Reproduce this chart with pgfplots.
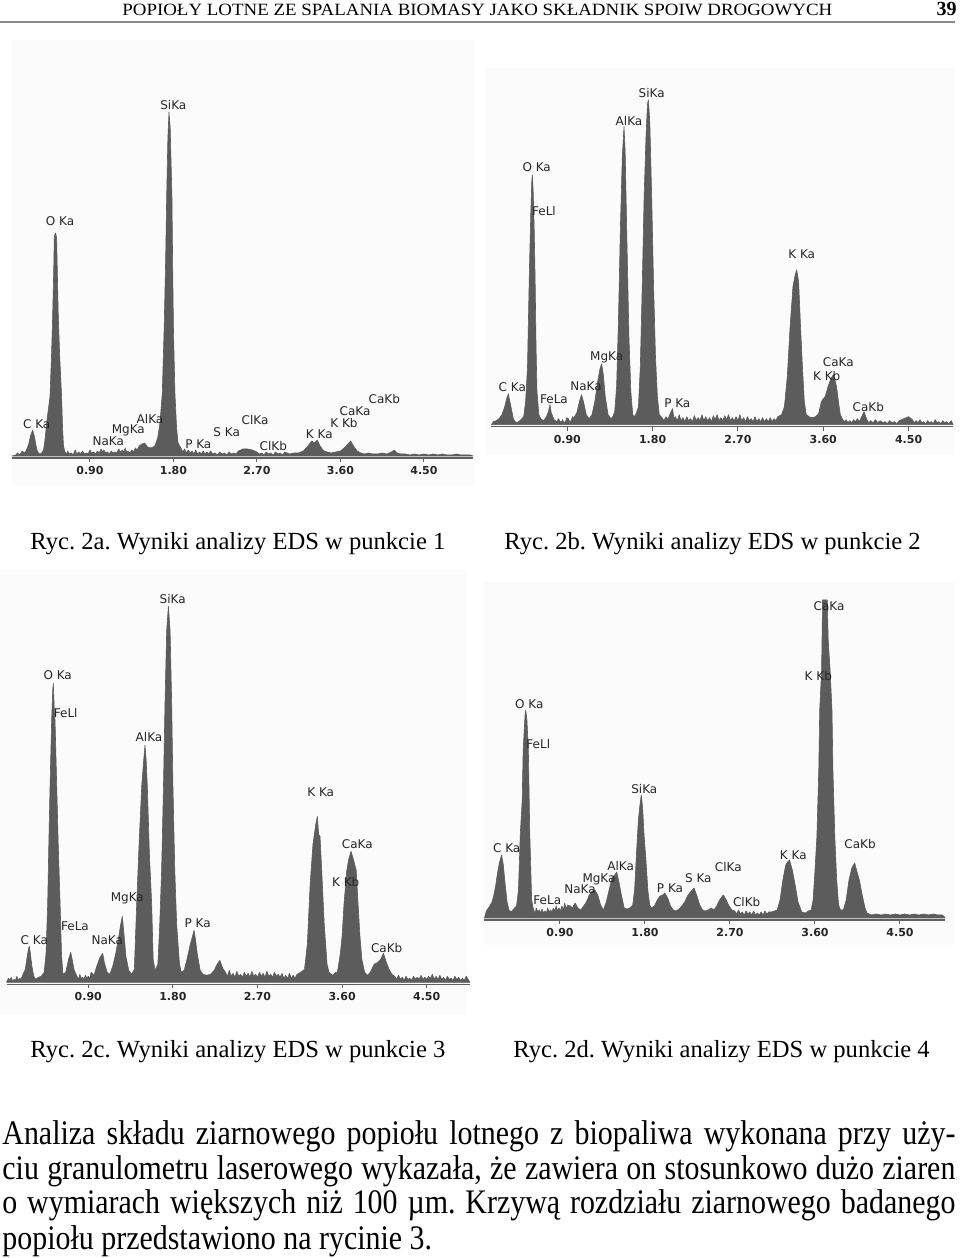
\documentclass[border=0pt]{standalone}
\usepackage{pgfplots}
\pgfplotsset{compat=1.18}
\usepackage{fontspec}
\setmainfont{Liberation Serif}
\newfontfamily\labfont{DejaVu Sans}
\newfontfamily\bodyfont{Liberation Serif}[FakeStretch=0.87]
\newfontfamily\headfont{Liberation Serif}
\definecolor{spec}{RGB}{92,92,92}
\definecolor{axgray}{RGB}{95,95,95}
\definecolor{bg}{RGB}{251,251,251}
\newcommand\lab[3]{\node[font=\labfont\fontsize{6}{6}\selectfont,inner sep=0pt,text=black!85] at ({#1*0.5pt},{(1258-#2)*0.5pt}) {#3};}
\newcommand\pxrect[4]{\fill[bg] ({#1*0.5pt},{(1258-#2)*0.5pt}) rectangle ({#3*0.5pt},{(1258-#4)*0.5pt});}
\pgfplotsset{
  eds/.style={scale only axis, anchor=south west, axis y line=none, axis x line*=bottom,
    ymin=0, ytick=\empty, enlargelimits=false,
    xtick={0.9,1.8,2.7,3.6,4.5}, xticklabels={0.90,1.80,2.70,3.60,4.50},
    xtick align=outside, major tick length=2pt,
    tick style={line width=0.5pt, draw=axgray},
    axis line style={line width=0.6pt, draw=axgray},
    xticklabel style={font=\labfont\bfseries\fontsize{5.5}{6}\selectfont, text=black!85, inner sep=1pt, yshift=-1pt},
    clip=false},
  sp/.style={fill=spec, draw=spec, line width=0.3pt, line join=round}
}
\frenchspacing
\begin{document}
\frenchspacing
\begin{tikzpicture}
\path[use as bounding box] (0,0) rectangle (480pt,629pt);
% panel backgrounds
\pxrect{12}{485}{475}{40}
\pxrect{485}{455}{955}{68}
\pxrect{0}{1015}{467}{570}
\pxrect{483}{945}{955}{582}
% header
\node[anchor=base west, inner sep=0] at (61pt,{(1258-16)*0.5pt}) {\resizebox{355pt}{5.7pt}{\headfont POPIOŁY LOTNE ZE SPALANIA BIOMASY JAKO SKŁADNIK SPOIW DROGOWYCH}};
\node[anchor=base east, inner sep=0] at (478.5pt,{(1258-16)*0.5pt}) {\fontsize{10}{10}\selectfont\bfseries 39};
\fill[black!45] (0pt,{(1258-23.5)*0.5pt}) rectangle (477.5pt,{(1258-21.5)*0.5pt});

% ---------------- panel a ----------------
\begin{axis}[eds, at={(6pt,400pt)}, xmin=0.06, xmax=5.03, ymax=360, width=230.56pt, height=180pt]
\addplot[sp] coordinates {(0.06,2) (0.10,3) (0.12,5) (0.14,3) (0.15,4) (0.17,7) (0.18,6) (0.20,5) (0.22,9) (0.24,14) (0.26,22) (0.282,28) (0.30,22) (0.32,12) (0.335,6) (0.36,4) (0.38,5) (0.40,8) (0.415,18) (0.44,40) (0.469,61) (0.485,100) (0.498,141) (0.51,190) (0.516,222) (0.53,225) (0.541,220) (0.55,180) (0.559,141) (0.575,100) (0.595,61) (0.605,30) (0.615,12) (0.63,6) (0.65,4) (0.66,7) (0.68,4) (0.70,5) (0.72,3) (0.74,8) (0.76,4) (0.78,6) (0.80,4) (0.82,7) (0.84,4) (0.86,5) (0.88,4) (0.90,8) (0.92,5) (0.94,6) (0.96,4) (0.98,7) (1.00,5) (1.02,9) (1.035,6) (1.05,8) (1.07,5) (1.09,6) (1.11,4) (1.13,7) (1.15,5) (1.17,6) (1.19,5) (1.21,9) (1.23,6) (1.25,8) (1.265,6) (1.28,10) (1.295,6) (1.31,7) (1.33,5) (1.35,8) (1.37,6) (1.39,10) (1.41,8) (1.43,12) (1.46,14) (1.49,15) (1.52,11) (1.56,10) (1.60,12) (1.63,20) (1.655,35) (1.68,65) (1.70,130) (1.716,198) (1.727,261) (1.74,320) (1.752,346) (1.765,330) (1.784,261) (1.791,198) (1.80,130) (1.816,65) (1.834,30) (1.85,15) (1.88,10) (1.90,6) (1.92,9) (1.94,5) (1.96,8) (1.98,5) (2.00,7) (2.02,4) (2.04,8) (2.06,4) (2.08,6) (2.10,4) (2.12,7) (2.14,4) (2.16,6) (2.18,4) (2.20,7) (2.225,4) (2.25,5) (2.275,3) (2.30,6) (2.325,4) (2.35,5) (2.375,3) (2.40,6) (2.425,4) (2.45,5) (2.475,4) (2.50,7) (2.55,9) (2.60,9) (2.65,8) (2.70,6) (2.725,4) (2.75,5) (2.775,3) (2.80,6) (2.825,4) (2.85,5) (2.875,3) (2.90,6) (2.925,4) (2.95,5) (2.975,3) (3.00,6) (3.05,4) (3.10,5) (3.15,5) (3.20,7) (3.25,12) (3.29,17) (3.32,15) (3.35,18) (3.38,12) (3.42,7) (3.46,6) (3.50,5) (3.55,6) (3.60,7) (3.64,10) (3.68,14) (3.71,17) (3.74,12) (3.78,7) (3.82,5) (3.86,4) (3.90,5) (3.95,4) (4.00,4) (4.05,5) (4.10,4) (4.15,6) (4.18,8) (4.21,5) (4.25,4) (4.30,4) (4.35,3) (4.40,4) (4.45,3) (4.50,4) (4.55,3) (4.60,4) (4.65,3) (4.70,4) (4.75,3) (4.80,3) (4.85,4) (4.90,3) (4.95,3) (5.00,3) (5.03,2)} -- cycle;
\end{axis}
\lab{173.3}{105}{SiKa}
\lab{60}{220.7}{O Ka}
\lab{36.7}{424}{C Ka}
\lab{150}{419}{AlKa}
\lab{128.3}{430.7}{MgKa}
\lab{108.3}{441.7}{NaKa}
\lab{198.3}{444}{P Ka}
\lab{226.7}{431.7}{S Ka}
\lab{255}{420}{ClKa}
\lab{273.3}{446}{ClKb}
\lab{319.3}{434}{K Ka}
\lab{344}{422.7}{K Kb}
\lab{355}{411}{CaKa}
\lab{384.3}{399.3}{CaKb}

% ---------------- panel b ----------------
\begin{axis}[eds, at={(245.74pt,415.65pt)}, xmin=0.10, xmax=4.97, ymax=360, width=230.84pt, height=180pt]
\addplot[sp] coordinates {(0.10,2) (0.12,5) (0.15,6) (0.18,8) (0.21,12) (0.24,20) (0.26,28) (0.278,33) (0.29,27) (0.31,18) (0.33,8) (0.35,5) (0.37,4) (0.40,6) (0.42,8) (0.44,10) (0.46,25) (0.48,60) (0.50,157) (0.515,215) (0.525,245) (0.531,252) (0.54,235) (0.55,200) (0.56,150) (0.57,80) (0.58,35) (0.60,12) (0.62,8) (0.65,6) (0.68,10) (0.70,15) (0.717,22) (0.73,14) (0.76,7) (0.79,5) (0.805,8) (0.82,6) (0.835,4) (0.85,7) (0.865,4) (0.88,5) (0.895,9) (0.91,8) (0.925,5) (0.94,6) (0.955,10) (0.97,9) (1.00,14) (1.03,26) (1.05,32) (1.07,25) (1.10,12) (1.13,8) (1.16,12) (1.19,25) (1.22,45) (1.245,58) (1.262,63) (1.28,52) (1.30,30) (1.33,12) (1.36,8) (1.38,10) (1.40,15) (1.42,40) (1.44,110) (1.46,200) (1.48,270) (1.498,300) (1.51,275) (1.53,180) (1.55,90) (1.57,35) (1.59,12) (1.61,10) (1.63,14) (1.65,20) (1.67,60) (1.69,140) (1.71,230) (1.73,290) (1.745,322) (1.755,327) (1.77,305) (1.79,230) (1.81,140) (1.83,70) (1.85,30) (1.87,12) (1.90,9) (1.92,6) (1.94,10) (1.96,7) (1.98,12) (2.01,18) (2.025,8) (2.04,10) (2.06,6) (2.08,12) (2.10,6) (2.12,9) (2.14,5) (2.16,10) (2.18,6) (2.20,8) (2.22,5) (2.24,11) (2.26,6) (2.28,9) (2.30,6) (2.32,12) (2.34,6) (2.36,10) (2.38,6) (2.40,9) (2.42,5) (2.44,11) (2.46,7) (2.48,12) (2.50,6) (2.52,9) (2.54,6) (2.56,11) (2.58,7) (2.60,12) (2.62,6) (2.64,9) (2.66,6) (2.68,10) (2.70,6) (2.72,12) (2.74,6) (2.76,9) (2.78,5) (2.80,10) (2.82,6) (2.84,8) (2.86,5) (2.88,10) (2.90,5) (2.92,8) (2.94,5) (2.96,9) (2.98,5) (3.00,8) (3.02,5) (3.04,9) (3.06,5) (3.08,8) (3.10,6) (3.12,10) (3.16,12) (3.19,20) (3.22,50) (3.25,100) (3.28,140) (3.30,150) (3.319,157) (3.34,145) (3.36,100) (3.38,60) (3.40,25) (3.42,12) (3.45,10) (3.48,9) (3.52,10) (3.55,13) (3.58,25) (3.60,28) (3.62,30) (3.65,40) (3.68,48) (3.706,52) (3.72,48) (3.74,40) (3.76,25) (3.78,12) (3.80,8) (3.82,5) (3.84,7) (3.86,4) (3.88,6) (3.90,4) (3.92,7) (3.94,5) (3.96,8) (3.98,5) (4.00,9) (4.03,15) (4.06,7) (4.08,4) (4.10,6) (4.125,4) (4.15,7) (4.175,4) (4.20,6) (4.225,4) (4.25,5) (4.275,3) (4.30,6) (4.325,4) (4.35,5) (4.375,3) (4.40,6) (4.45,8) (4.50,10) (4.54,7) (4.56,4) (4.58,6) (4.60,4) (4.62,7) (4.64,4) (4.66,5) (4.68,3) (4.70,6) (4.72,4) (4.74,5) (4.76,3) (4.78,7) (4.80,4) (4.82,5) (4.84,3) (4.86,6) (4.88,4) (4.90,5) (4.925,3) (4.95,6) (4.97,2)} -- cycle;
\end{axis}
\lab{651.7}{93.3}{SiKa}
\lab{629}{120.7}{AlKa}
\lab{536.7}{167.3}{O Ka}
\lab{544}{210.7}{FeLl}
\lab{801.7}{254}{K Ka}
\lab{606.7}{357.3}{MgKa}
\lab{838.3}{361.7}{CaKa}
\lab{826.7}{375.7}{K Kb}
\lab{512.3}{386.7}{C Ka}
\lab{586}{386.7}{NaKa}
\lab{554}{399}{FeLa}
\lab{677.3}{403.3}{P Ka}
\lab{868.3}{407.3}{CaKb}

% ---------------- panel c ----------------
\begin{axis}[eds, at={(3.26pt,136.85pt)}, xmin=0.03, xmax=4.96, ymax=400, width=231.71pt, height=200pt]
\addplot[sp] coordinates {(0.03,2) (0.05,6) (0.065,4) (0.08,7) (0.095,3) (0.11,5) (0.125,4) (0.14,8) (0.155,4) (0.17,6) (0.185,5) (0.20,9) (0.23,15) (0.25,28) (0.265,36) (0.273,38) (0.285,30) (0.30,18) (0.32,8) (0.34,5) (0.37,7) (0.40,8) (0.43,12) (0.45,30) (0.468,81) (0.48,140) (0.493,198) (0.51,264) (0.522,295) (0.528,301) (0.54,270) (0.546,264) (0.564,198) (0.58,140) (0.60,81) (0.615,30) (0.63,10) (0.66,12) (0.69,25) (0.713,32) (0.73,24) (0.75,14) (0.78,8) (0.795,5) (0.81,10) (0.825,6) (0.84,7) (0.855,5) (0.87,9) (0.885,6) (0.90,8) (0.915,6) (0.93,12) (0.96,9) (0.99,18) (1.02,26) (1.053,31) (1.07,22) (1.10,12) (1.13,10) (1.16,18) (1.19,30) (1.22,45) (1.245,60) (1.262,68) (1.28,50) (1.30,28) (1.33,14) (1.36,10) (1.39,15) (1.415,81) (1.44,140) (1.468,198) (1.49,225) (1.503,239) (1.515,225) (1.528,198) (1.55,130) (1.574,81) (1.59,25) (1.61,14) (1.64,20) (1.66,60) (1.68,114) (1.70,200) (1.716,281) (1.734,354) (1.752,378) (1.77,354) (1.787,281) (1.80,200) (1.82,114) (1.84,60) (1.87,20) (1.89,12) (1.92,14) (1.95,25) (1.98,38) (2.00,45) (2.025,54) (2.04,45) (2.06,30) (2.09,14) (2.12,10) (2.16,9) (2.20,10) (2.24,14) (2.27,20) (2.30,24) (2.33,16) (2.36,12) (2.38,8) (2.40,14) (2.42,8) (2.44,11) (2.46,7) (2.48,13) (2.50,8) (2.52,10) (2.54,7) (2.56,12) (2.58,8) (2.60,11) (2.62,7) (2.64,13) (2.66,8) (2.68,10) (2.70,7) (2.72,12) (2.74,8) (2.76,11) (2.78,7) (2.80,13) (2.82,8) (2.84,10) (2.86,7) (2.88,12) (2.90,8) (2.92,10) (2.94,7) (2.96,11) (2.98,6) (3.00,9) (3.02,6) (3.04,11) (3.06,6) (3.08,9) (3.10,6) (3.12,10) (3.16,12) (3.20,15) (3.23,40) (3.26,100) (3.29,140) (3.32,160) (3.337,168) (3.35,150) (3.365,148) (3.38,120) (3.41,60) (3.44,20) (3.46,12) (3.50,9) (3.53,12) (3.55,12) (3.58,30) (3.60,48) (3.62,80) (3.65,114) (3.67,125) (3.695,133) (3.72,125) (3.75,114) (3.77,80) (3.79,48) (3.81,25) (3.84,12) (3.87,9) (3.90,12) (3.94,20) (3.98,22) (4.01,25) (4.04,31) (4.07,22) (4.10,15) (4.13,10) (4.16,8) (4.18,5) (4.20,9) (4.22,5) (4.24,7) (4.26,4) (4.28,8) (4.30,5) (4.32,6) (4.34,4) (4.36,8) (4.38,5) (4.40,7) (4.42,5) (4.44,9) (4.46,5) (4.48,7) (4.50,5) (4.52,8) (4.54,6) (4.56,10) (4.58,5) (4.60,8) (4.62,5) (4.64,9) (4.66,5) (4.68,7) (4.70,4) (4.72,8) (4.74,5) (4.76,6) (4.78,4) (4.80,8) (4.82,5) (4.84,7) (4.86,4) (4.88,6) (4.90,4) (4.92,8) (4.96,2)} -- cycle;
\end{axis}
\lab{172.7}{599}{SiKa}
\lab{57.7}{675}{O Ka}
\lab{65.7}{712.7}{FeLl}
\lab{149}{736.7}{AlKa}
\lab{320.7}{792.7}{K Ka}
\lab{357.3}{844}{CaKa}
\lab{345.7}{882.3}{K Kb}
\lab{127.3}{898.3}{MgKa}
\lab{197.7}{923.3}{P Ka}
\lab{75}{926.7}{FeLa}
\lab{386.7}{947.7}{CaKb}
\lab{34.3}{940}{C Ka}
\lab{107.3}{940}{NaKa}

% ---------------- panel d ----------------
\begin{axis}[eds, at={(242.22pt,169pt)}, xmin=0.10, xmax=4.98, ymax=340, width=230.43pt, height=170pt]
\addplot[sp] coordinates {(0.10,2) (0.12,9) (0.15,13) (0.18,18) (0.20,25) (0.22,35) (0.24,48) (0.26,58) (0.282,65) (0.30,55) (0.32,35) (0.34,18) (0.36,10) (0.38,8) (0.40,10) (0.42,12) (0.44,14) (0.46,30) (0.48,87) (0.50,120) (0.51,170) (0.53,205) (0.537,210) (0.55,200) (0.565,170) (0.58,87) (0.60,20) (0.62,10) (0.635,7) (0.65,12) (0.665,8) (0.68,10) (0.695,7) (0.71,11) (0.725,7) (0.74,9) (0.755,7) (0.77,12) (0.785,8) (0.80,10) (0.815,8) (0.83,12) (0.845,9) (0.86,14) (0.875,9) (0.89,12) (0.905,9) (0.92,14) (0.935,10) (0.95,17) (0.965,11) (0.98,15) (1.01,14) (1.03,12) (1.06,17) (1.09,12) (1.12,10) (1.15,14) (1.18,18) (1.21,25) (1.24,29) (1.27,30) (1.30,25) (1.33,15) (1.36,10) (1.39,18) (1.42,30) (1.45,42) (1.48,45) (1.50,48) (1.52,40) (1.55,25) (1.58,12) (1.61,11) (1.64,12) (1.67,15) (1.69,30) (1.71,67) (1.73,100) (1.75,118) (1.761,125) (1.775,112) (1.79,85) (1.81,60) (1.83,30) (1.85,15) (1.87,12) (1.90,14) (1.93,20) (1.96,24) (1.99,25) (2.01,27) (2.04,22) (2.07,14) (2.10,10) (2.13,9) (2.16,11) (2.19,14) (2.22,18) (2.25,24) (2.28,28) (2.32,32) (2.35,24) (2.38,15) (2.41,10) (2.44,9) (2.47,10) (2.50,12) (2.53,10) (2.56,14) (2.59,20) (2.62,24) (2.63,25) (2.66,20) (2.69,14) (2.72,10) (2.75,9) (2.77,6) (2.79,10) (2.81,6) (2.83,8) (2.85,5) (2.87,9) (2.89,6) (2.91,8) (2.93,5) (2.95,9) (2.97,5) (2.99,7) (3.01,5) (3.03,8) (3.05,5) (3.07,9) (3.09,6) (3.11,8) (3.14,8) (3.17,9) (3.20,10) (3.23,20) (3.26,40) (3.29,55) (3.31,58) (3.33,60) (3.36,50) (3.39,35) (3.42,18) (3.46,8) (3.50,7) (3.53,9) (3.56,10) (3.58,20) (3.60,50) (3.62,83) (3.64,150) (3.65,210) (3.67,250) (3.68,320) (3.73,320) (3.74,280) (3.76,250) (3.78,210) (3.79,150) (3.81,83) (3.83,40) (3.85,15) (3.87,10) (3.90,10) (3.93,20) (3.96,40) (3.99,52) (4.02,57) (4.04,50) (4.07,40) (4.10,25) (4.13,12) (4.15,7) (4.20,5) (4.25,6) (4.30,5) (4.35,6) (4.40,5) (4.45,6) (4.50,5) (4.55,6) (4.60,5) (4.65,6) (4.70,5) (4.75,6) (4.80,5) (4.85,6) (4.90,5) (4.95,5) (4.98,2)} -- cycle;
\end{axis}
\lab{829}{605.7}{CaKa}
\lab{818.3}{675.7}{K Kb}
\lab{529.3}{704}{O Ka}
\lab{538.3}{744}{FeLl}
\lab{644.3}{789.3}{SiKa}
\lab{860}{844}{CaKb}
\lab{793.3}{855}{K Ka}
\lab{506.7}{848.3}{C Ka}
\lab{728.3}{867.3}{ClKa}
\lab{620.7}{866}{AlKa}
\lab{698.3}{878.3}{S Ka}
\lab{599}{879}{MgKa}
\lab{670}{888.3}{P Ka}
\lab{580}{889.3}{NaKa}
\lab{746.7}{901.7}{ClKb}
\lab{547.3}{900.7}{FeLa}

% captions
\node[anchor=base west, inner sep=0, font=\fontsize{12.3}{12.3}\selectfont] at (15pt,{(1258-550)*0.5pt}) {Ryc. 2a. Wyniki analizy EDS w punkcie 1};
\node[anchor=base west, inner sep=0, font=\fontsize{12.3}{12.3}\selectfont] at (252pt,{(1258-550)*0.5pt}) {Ryc. 2b. Wyniki analizy EDS w punkcie 2};
\node[anchor=base west, inner sep=0, font=\fontsize{12.3}{12.3}\selectfont] at (15pt,{(1258-1058)*0.5pt}) {Ryc. 2c. Wyniki analizy EDS w punkcie 3};
\node[anchor=base west, inner sep=0, font=\fontsize{12.3}{12.3}\selectfont] at (256.5pt,{(1258-1058)*0.5pt}) {Ryc. 2d. Wyniki analizy EDS w punkcie 4};

% body text
\node[anchor=base west, inner sep=0, font=\bodyfont\fontsize{17.2}{17.2}\selectfont] at (1pt,{(1258-1145)*0.5pt}) {\makebox[476.5pt][s]{Analiza składu ziarnowego popiołu lotnego z biopaliwa wykonana przy uży-}};
\node[anchor=base west, inner sep=0, font=\bodyfont\fontsize{17.2}{17.2}\selectfont] at (1pt,{(1258-1180)*0.5pt}) {\makebox[476.5pt][s]{ciu granulometru laserowego wykazała, że zawiera on stosunkowo dużo ziaren}};
\node[anchor=base west, inner sep=0, font=\bodyfont\fontsize{17.2}{17.2}\selectfont] at (1pt,{(1258-1214)*0.5pt}) {\makebox[476.5pt][s]{o wymiarach większych niż 100 µm. Krzywą rozdziału ziarnowego badanego}};
\node[anchor=base west, inner sep=0, font=\bodyfont\fontsize{17.2}{17.2}\selectfont] at (1pt,{(1258-1249)*0.5pt}) {popiołu przedstawiono na rycinie 3.};
\end{tikzpicture}
\end{document}
